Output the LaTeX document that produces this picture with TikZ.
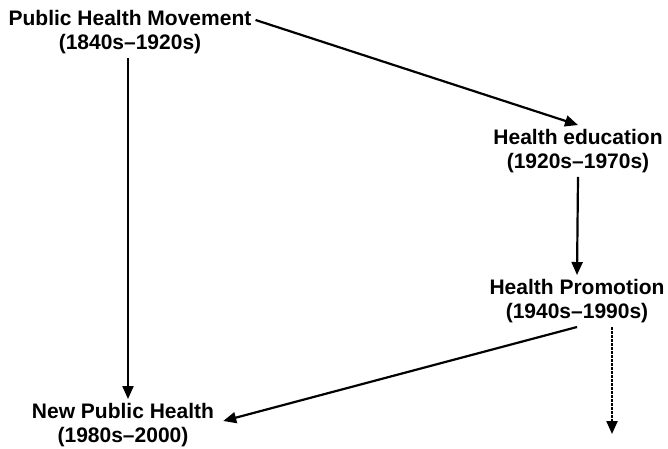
\documentclass[tikz,border=0pt]{standalone}
\usepackage{fontspec}
\setmainfont{Liberation Sans}
\usetikzlibrary{arrows.meta}
\tikzset{arr/.style={line width=2.2pt,-{Triangle[length=13pt,width=11pt]}}}
\begin{document}
\begin{tikzpicture}
  [x=1pt,y=-1pt,every node/.style={align=center,inner sep=4pt,font=\fontsize{21}{24}\selectfont\bfseries}]
  \useasboundingbox (0,0) rectangle (668,448);
  \node (phm) at (130,32)  {Public Health Movement\\(1840s--1920s)};
  \node (he)  at (578,151) {Health education\\(1920s--1970s)};
  \node (hp)  at (577,301) {Health Promotion\\(1940s--1990s)};
  \node (nph) at (123,425) {New Public Health\\(1980s--2000)};
  \coordinate (end) at (612,434);

  \foreach \from/\to in {he.south/hp.north}
    \draw[arr] (\from) -- (\to);
  \draw[arr] ([xshift=-2pt]phm.south) -- ([xshift=5pt]nph.north);
  \draw[arr] ([yshift=12pt]phm.east) -- (he.north);
  \draw[arr] (hp.south) -- ([xshift=5pt,yshift=4pt]nph.east);
  \draw[arr,dash pattern=on 3pt off 1pt] ([xshift=35pt]hp.south) -- (end);

\end{tikzpicture}
\end{document}
